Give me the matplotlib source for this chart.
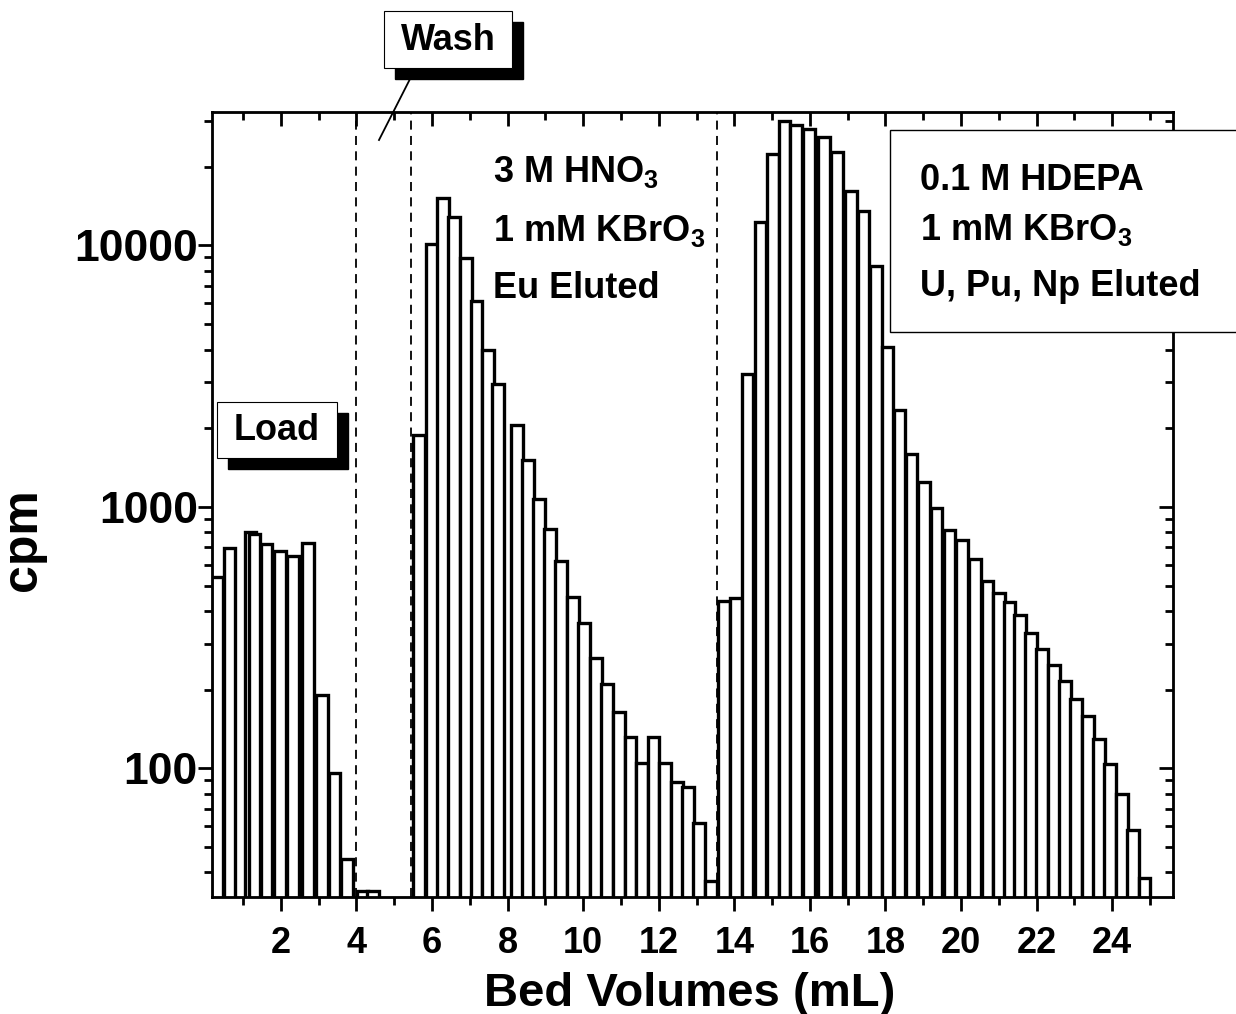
import matplotlib
matplotlib.use("Agg")
import matplotlib.pyplot as plt
from matplotlib.patches import Rectangle
from matplotlib.lines import Line2D
from matplotlib.ticker import LogLocator, NullFormatter, MultipleLocator

plt.rcParams['font.family'] = ['Liberation Sans', 'DejaVu Sans']
plt.rcParams['font.weight'] = 'bold'
plt.rcParams['mathtext.fontset'] = 'custom'
plt.rcParams['mathtext.rm'] = 'Liberation Sans:bold'
plt.rcParams['mathtext.bf'] = 'Liberation Sans:bold'

# fractions: bed volume (centre of each fraction) and counts
load_bv = [0.31, 0.64, 1.20, 1.30, 1.62, 1.97, 2.33, 2.72, 3.08, 3.42, 3.75, 4.16, 4.43]
load_cpm = [541, 695, 800, 790, 722, 681, 650, 727, 191, 96, 45, 34, 34]

eu_bv = [5.66, 6.00, 6.30, 6.59, 6.89, 7.18, 7.48, 7.75, 8.24, 8.54, 8.84, 9.13,
         9.42, 9.73, 10.03, 10.33, 10.63, 10.94, 11.25, 11.55, 11.86, 12.17,
         12.48, 12.77, 13.07, 13.38]
eu_cpm = [1890, 10100, 15200, 12800, 8960, 6110, 3970, 2950, 2055, 1510, 1074, 822,
          620, 454, 359, 264, 210, 165, 132, 105, 132, 105,
          89, 85, 62, 37]

hd_bv = [13.72, 14.04, 14.35, 14.69, 15.02, 15.33, 15.63, 15.98, 16.37, 16.72,
         17.08, 17.42, 17.75, 18.05, 18.37, 18.69, 19.01, 19.35, 19.69, 20.02,
         20.36, 20.70, 21.00, 21.28, 21.56, 21.85, 22.15, 22.45, 22.75, 23.05,
         23.35, 23.65, 23.95, 24.25, 24.55, 24.85]
hd_cpm = [438, 447, 3220, 12340, 22300, 30000, 29000, 28000, 25900, 22800,
          16200, 13500, 8380, 4080, 2340, 1590, 1250, 995, 814, 750,
          631, 521, 469, 434, 387, 330, 285, 249, 215, 184,
          158, 130, 104, 80, 58, 38]

step_bv = [4.0, 5.45, 13.53]

W, H = 1236, 1014
fig = plt.figure(figsize=(W / 100, H / 100), dpi=100)
ax = fig.add_axes([211.7 / W, 1 - 896.7 / H, 961 / W, 784.7 / H])

bv = load_bv + eu_bv + hd_bv
cpm = load_cpm + eu_cpm + hd_cpm
ax.bar(bv, cpm, width=0.31, color='white', edgecolor='black', linewidth=2.4)

for x in step_bv:
    ax.axvline(x, color='black', lw=1.3, ls=(0, (5, 3.5)), zorder=3)

ax.set_yscale('log')
ax.set_xlim(0.17, 25.6)
ax.set_ylim(32.3, 32400)

ax.set_xticks(range(2, 26, 2))
ax.xaxis.set_minor_locator(MultipleLocator(1))
ax.set_yticks([100, 1000, 10000])
ax.set_yticklabels(['100', '1000', '10000'])
ax.yaxis.set_minor_locator(LogLocator(base=10, subs=range(2, 10)))
ax.yaxis.set_minor_formatter(NullFormatter())

ax.tick_params(which='major', direction='out', length=10, width=2)
ax.tick_params(which='minor', direction='out', length=6, width=2)
ax.tick_params(axis='x', labelsize=26, pad=11)
ax.tick_params(axis='y', labelsize=32, pad=0)
for s in ax.spines.values():
    s.set_linewidth(2)

# mirrored axes with inward ticks
ax2 = ax.twinx()
ax2.set_yscale('log')
ax2.set_ylim(ax.get_ylim())
ax2.set_yticks([100, 1000, 10000])
ax2.yaxis.set_minor_locator(LogLocator(base=10, subs=range(2, 10)))
ax2.yaxis.set_minor_formatter(NullFormatter())
ax2.tick_params(which='both', direction='in', labelright=False, width=2)
ax2.tick_params(which='major', length=10)
ax2.tick_params(which='minor', length=6)
ax3 = ax.twiny()
ax3.set_xlim(ax.get_xlim())
ax3.set_xticks(range(2, 26, 2))
ax3.xaxis.set_minor_locator(MultipleLocator(1))
ax3.tick_params(which='both', direction='in', labeltop=False, width=2)
ax3.tick_params(which='major', length=10)
ax3.tick_params(which='minor', length=6)

ax.set_xlabel('Bed Volumes (mL)', fontsize=34, fontweight='bold')
ax.set_ylabel('cpm', fontsize=36, fontweight='bold')
ax.xaxis.set_label_coords(0.497, -0.096)
ax.yaxis.set_label_coords(-0.172, 0.455)


def fx(px):
    return px / W


def fy(py):
    return 1 - py / H


def shadow_box(x0, y0, x1, y1, off):
    fig.add_artist(Rectangle((fx(x0 + off), fy(y1 + off)), fx(x1 - x0), (y1 - y0) / H,
                             transform=fig.transFigure, facecolor='black',
                             edgecolor='black', zorder=5))
    fig.add_artist(Rectangle((fx(x0), fy(y1)), fx(x1 - x0), (y1 - y0) / H,
                             transform=fig.transFigure, facecolor='white',
                             edgecolor='black', lw=0.8, zorder=6))


# Wash label
shadow_box(384, 11, 512, 68, 11)
fig.text(fx(448), fy(40), 'Wash', fontsize=26, ha='center', va='center', zorder=7)
fig.add_artist(Line2D([fx(410), fx(379)], [fy(79), fy(140)], color='black', lw=1.3,
                      transform=fig.transFigure, zorder=7))

# Load label
shadow_box(217, 402, 337, 458, 11)
fig.text(fx(277), fy(430), 'Load', fontsize=26, ha='center', va='center', zorder=7)

# Eu elution text
fig.text(fx(493), fy(172), r'3 M HNO$_3$', fontsize=26, va='center')
fig.text(fx(493), fy(231), r'1 mM KBrO$_3$', fontsize=26, va='center')
fig.text(fx(493), fy(289), 'Eu Eluted', fontsize=26, va='center')

# HDEPA box
fig.add_artist(Rectangle((fx(890), fy(332)), fx(360), 202 / H, transform=fig.transFigure,
                         facecolor='white', edgecolor='black', lw=1.0, zorder=5))
fig.text(fx(920), fy(181), '0.1 M HDEPA', fontsize=26, va='center', zorder=7)
fig.text(fx(920), fy(230), r'1 mM KBrO$_3$', fontsize=26, va='center', zorder=7)
fig.text(fx(920), fy(287), 'U, Pu, Np Eluted', fontsize=26, va='center', zorder=7)

fig.savefig('out.png', dpi=100)
